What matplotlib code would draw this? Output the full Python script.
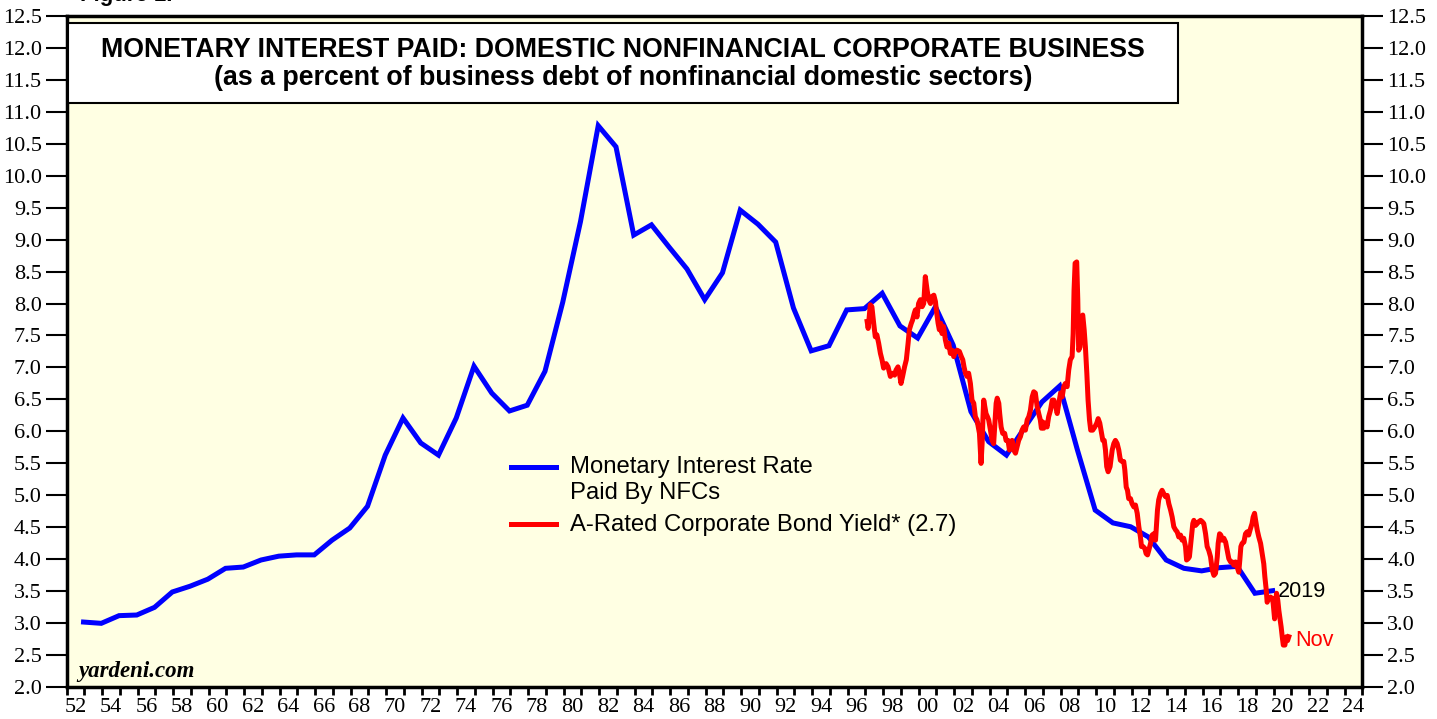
import matplotlib
matplotlib.use("Agg")
import matplotlib.pyplot as plt
import numpy as np
from matplotlib.patches import Rectangle
from matplotlib.lines import Line2D

# Monetary interest paid by NFCs, annual (% of business debt)
blue_years = list(range(1952, 2020))
blue_vals = [
    3.02, 3.00, 3.12, 3.13, 3.25, 3.49, 3.58, 3.69, 3.86, 3.88,   # 52-61
    3.99, 4.05, 4.07, 4.07, 4.30, 4.49, 4.83, 5.63, 6.21, 5.82,   # 62-71
    5.63, 6.21, 7.02, 6.60, 6.32, 6.41, 6.94, 8.02, 9.28, 10.78,  # 72-81
    10.45, 9.07, 9.23, 8.88, 8.54, 8.06, 8.48, 9.46, 9.24, 8.96,  # 82-91
    7.93, 7.26, 7.34, 7.90, 7.92, 8.16, 7.65, 7.46, 7.95, 7.35,   # 92-01
    6.31, 5.84, 5.63, 6.05, 6.46, 6.71, 5.71, 4.77, 4.57, 4.51,   # 02-11
    4.35, 3.99, 3.86, 3.82, 3.87, 3.89, 3.47, 3.51,               # 12-19
]

# A-rated corporate bond yield (monthly-ish readings, decimal years)
red_t = [
    1997.10, 1997.16, 1997.28, 1997.37, 1997.47, 1997.56, 1997.65, 1997.75, 1997.85, 1997.94,
    1998.03, 1998.17, 1998.28, 1998.41, 1998.54, 1998.65, 1998.73, 1998.84, 1998.92, 1999.01,
    1999.10, 1999.21, 1999.31, 1999.41, 1999.48, 1999.59, 1999.66, 1999.76, 1999.82, 1999.91,
    2000.00, 2000.10, 2000.20, 2000.29, 2000.38, 2000.48, 2000.57, 2000.67, 2000.76, 2000.86,
    2000.95, 2001.00, 2001.10, 2001.17, 2001.25, 2001.32, 2001.41, 2001.51, 2001.60, 2001.70,
    2001.79, 2001.89, 2001.98, 2002.07, 2002.17, 2002.30, 2002.41, 2002.49, 2002.56, 2002.64,
    2002.73, 2002.82, 2002.92, 2003.01, 2003.11, 2003.20, 2003.29, 2003.43, 2003.48, 2003.52,
    2003.58, 2003.63, 2003.67, 2003.73, 2003.80, 2003.88, 2003.95, 2004.05, 2004.14, 2004.23,
    2004.29, 2004.37, 2004.43, 2004.52, 2004.57, 2004.65, 2004.74, 2004.85, 2004.93, 2005.04,
    2005.12, 2005.19, 2005.27, 2005.36, 2005.46, 2005.55, 2005.64, 2005.74, 2005.83, 2005.92,
    2006.02, 2006.12, 2006.21, 2006.30, 2006.40, 2006.49, 2006.58, 2006.68, 2006.77, 2006.86,
    2006.92, 2006.99, 2007.05, 2007.15, 2007.24, 2007.33, 2007.43, 2007.53, 2007.62, 2007.71,
    2007.81, 2007.90, 2008.00, 2008.09, 2008.18, 2008.27, 2008.37, 2008.46, 2008.55, 2008.65,
    2008.71, 2008.76, 2008.82, 2008.91, 2008.97, 2009.02, 2009.10, 2009.18, 2009.25, 2009.33,
    2009.40, 2009.48, 2009.55, 2009.63, 2009.70, 2009.81, 2009.93, 2010.04, 2010.12, 2010.21,
    2010.30, 2010.38, 2010.46, 2010.53, 2010.60, 2010.68, 2010.79, 2010.91, 2011.00, 2011.09,
    2011.19, 2011.28, 2011.37, 2011.47, 2011.56, 2011.62, 2011.70, 2011.77, 2011.84, 2011.94,
    2012.03, 2012.13, 2012.22, 2012.32, 2012.41, 2012.50, 2012.56, 2012.65, 2012.75, 2012.82,
    2012.90, 2012.97, 2013.07, 2013.16, 2013.25, 2013.35, 2013.40, 2013.46, 2013.53, 2013.63,
    2013.72, 2013.81, 2013.91, 2014.01, 2014.10, 2014.20, 2014.29, 2014.38, 2014.48, 2014.57,
    2014.66, 2014.76, 2014.85, 2014.94, 2015.04, 2015.10, 2015.19, 2015.26, 2015.32, 2015.38,
    2015.45, 2015.51, 2015.60, 2015.70, 2015.79, 2015.89, 2015.98, 2016.07, 2016.17, 2016.26,
    2016.35, 2016.45, 2016.55, 2016.64, 2016.73, 2016.83, 2016.88, 2016.96, 2017.03, 2017.11,
    2017.20, 2017.30, 2017.39, 2017.48, 2017.58, 2017.67, 2017.76, 2017.86, 2017.95, 2018.04,
    2018.10, 2018.16, 2018.23, 2018.33, 2018.42, 2018.51, 2018.60, 2018.70, 2018.79, 2018.85,
    2018.93, 2018.99, 2019.08, 2019.17, 2019.27, 2019.36, 2019.45, 2019.51, 2019.59, 2019.64,
    2019.73, 2019.83, 2019.93, 2019.98, 2020.06, 2020.11, 2020.17, 2020.24, 2020.30, 2020.35,
    2020.43, 2020.49, 2020.55, 2020.64, 2020.72, 2020.79, 2020.86,
]
red_vals = [
    7.72, 7.61, 7.98, 7.95, 7.69, 7.48, 7.51, 7.38, 7.22, 7.12,
    6.99, 7.06, 7.01, 6.86, 6.91, 6.88, 6.96, 7.01, 6.91, 6.75,
    6.86, 7.01, 7.12, 7.38, 7.59, 7.69, 7.74, 7.85, 7.90, 7.79,
    8.00, 8.06, 7.95, 8.00, 8.42, 8.21, 8.06, 8.00, 8.11, 8.13,
    8.03, 7.90, 7.69, 7.59, 7.69, 7.53, 7.64, 7.43, 7.32, 7.38,
    7.22, 7.27, 7.17, 7.25, 7.27, 7.25, 7.17, 7.12, 7.01, 6.91,
    6.86, 6.91, 6.75, 6.49, 6.44, 6.23, 6.18, 5.97, 5.71, 5.50,
    5.81, 6.23, 6.49, 6.39, 6.28, 6.23, 6.18, 6.02, 5.86, 5.81,
    6.07, 6.44, 6.52, 6.44, 6.28, 6.07, 5.97, 5.97, 5.86, 5.86,
    5.71, 5.81, 5.86, 5.71, 5.66, 5.76, 5.86, 5.92, 6.02, 6.07,
    6.02, 6.18, 6.23, 6.33, 6.54, 6.62, 6.60, 6.39, 6.28, 6.18,
    6.05, 6.15, 6.05, 6.13, 6.07, 6.23, 6.33, 6.49, 6.49, 6.41,
    6.28, 6.44, 6.60, 6.54, 6.70, 6.75, 6.70, 6.96, 7.12, 7.17,
    7.53, 8.21, 8.63, 8.65, 8.06, 7.27, 7.32, 7.79, 7.82, 7.59,
    7.32, 6.91, 6.49, 6.18, 6.02, 6.02, 6.07, 6.13, 6.20, 6.13,
    5.99, 5.86, 5.86, 5.71, 5.45, 5.37, 5.45, 5.71, 5.81, 5.86,
    5.81, 5.71, 5.55, 5.53, 5.53, 5.40, 5.13, 5.08, 4.95, 4.95,
    4.87, 4.82, 4.85, 4.72, 4.51, 4.35, 4.20, 4.20, 4.17, 4.09,
    4.07, 4.14, 4.25, 4.38, 4.40, 4.30, 4.51, 4.77, 4.93, 5.03,
    5.08, 5.03, 4.98, 5.00, 4.87, 4.77, 4.66, 4.51, 4.46, 4.43,
    4.35, 4.38, 4.30, 4.33, 4.20, 3.99, 4.01, 4.04, 4.20, 4.35,
    4.56, 4.61, 4.53, 4.56, 4.59, 4.61, 4.59, 4.56, 4.40, 4.20,
    4.14, 4.04, 3.83, 3.75, 3.78, 4.04, 4.25, 4.40, 4.38, 4.30,
    4.33, 4.27, 4.14, 4.01, 3.96, 3.96, 3.91, 3.96, 3.88, 3.80,
    3.99, 4.20, 4.25, 4.27, 4.40, 4.43, 4.38, 4.48, 4.56, 4.66,
    4.72, 4.61, 4.46, 4.35, 4.25, 4.09, 3.93, 3.73, 3.52, 3.33,
    3.39, 3.41, 3.39, 3.31, 3.07, 3.31, 3.47, 3.36, 3.20, 3.10,
    2.94, 2.79, 2.66, 2.66, 2.79, 2.73, 2.79,
]

BLUE = "#0000FF"
RED = "#FF0000"
BG = "#FFFFE3"
SERIF = ["Liberation Serif", "DejaVu Serif"]
SANS = ["Liberation Sans", "DejaVu Sans"]

fig = plt.figure(figsize=(14.37, 7.19), dpi=100)
ax = fig.add_axes([0.0464, 0.0441, 0.9016, 0.9341])
ax.set_facecolor(BG)

# annual values plotted at year end
ax.plot(np.array(blue_years) + 0.95, blue_vals, color=BLUE, lw=3.6,
        solid_joinstyle="miter", zorder=3)
ax.plot(red_t, red_vals, color=RED, lw=3.6, zorder=4)

ax.set_xlim(1952, 2025)
ax.set_ylim(2.0, 12.5)

# x axis: year-boundary ticks, labels centered in the year
ax.set_xticks(np.arange(1952, 2026), minor=True)
lab_years = np.arange(1952, 2025, 2)
ax.set_xticks(lab_years + 0.5)
ax.set_xticklabels([f"{y % 100:02d}" for y in lab_years], family=SERIF, fontsize=16)
ax.tick_params(axis="x", which="major", length=0, pad=8)
ax.tick_params(axis="x", which="minor", length=6, width=2, direction="out")

yt = np.arange(2.0, 12.51, 0.5)
ax.set_yticks(yt)
ax.set_yticklabels([f"{v:.1f}" for v in yt], family=SERIF, fontsize=16)
ax.tick_params(axis="y", which="major", length=15, width=1.5, direction="out",
               left=True, right=True, labelleft=True, labelright=True, pad=3)

for s in ax.spines.values():
    s.set_linewidth(2.5)
    s.set_color("black")

# title box
ax.add_patch(Rectangle((0.001, 0.870), 0.857, 0.119, transform=ax.transAxes,
                       facecolor="white", edgecolor="black", lw=1.5, zorder=6))
ax.text(0.4293, 0.949, "MONETARY INTEREST PAID: DOMESTIC NONFINANCIAL CORPORATE BUSINESS",
        transform=ax.transAxes, ha="center", va="center", fontsize=19.3,
        fontweight="bold", family=SANS, zorder=7)
ax.text(0.4293, 0.907, "(as a percent of business debt of nonfinancial domestic sectors)",
        transform=ax.transAxes, ha="center", va="center", fontsize=19.3,
        fontweight="bold", family=SANS, zorder=7)

# legend drawn by hand
ax.add_line(Line2D([0.343, 0.378], [0.328, 0.328], transform=ax.transAxes,
                   color=BLUE, lw=3.6))
ax.add_line(Line2D([0.343, 0.378], [0.243, 0.243], transform=ax.transAxes,
                   color=RED, lw=3.6))
ax.text(0.3884, 0.328, "Monetary Interest Rate", transform=ax.transAxes,
        va="center", fontsize=17.2, family=SANS)
ax.text(0.3884, 0.290, "Paid By NFCs", transform=ax.transAxes,
        va="center", fontsize=17.2, family=SANS)
ax.text(0.3884, 0.242, "A-Rated Corporate Bond Yield* (2.7)", transform=ax.transAxes,
        va="center", fontsize=17.2, family=SANS)

# end labels
ax.text(2020.25, 3.50, "2019", color="black", va="center", fontsize=15.6, family=SANS)
ax.text(2021.2, 2.73, "Nov", color=RED, va="center", fontsize=15.6, family=SANS)

ax.text(0.0087, 0.023, "yardeni.com", transform=ax.transAxes, va="center",
        fontsize=16.5, fontweight="bold", fontstyle="italic", family=SERIF)

# figure caption, mostly cut off at the top edge as in the source image
fig.text(80 / 1437, 1 - 1.5 / 719, "Figure 1.", fontsize=16, fontweight="bold",
         family=SANS, va="baseline")

fig.savefig("out.png", dpi=100, facecolor="white")
